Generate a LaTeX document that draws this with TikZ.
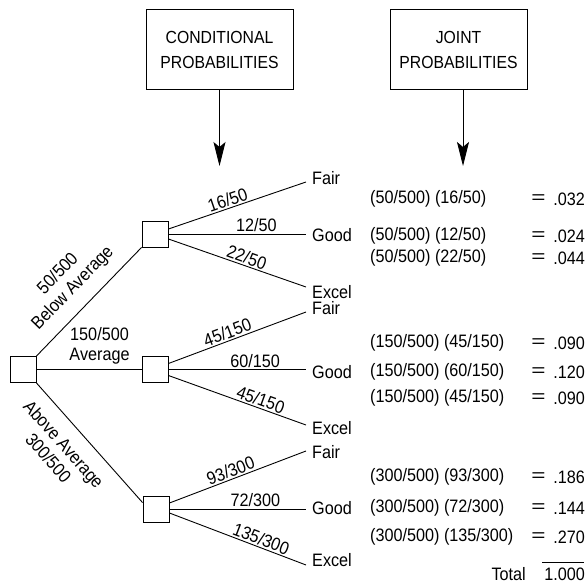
\documentclass[tikz,border=0pt]{standalone}
\usepackage{graphicx}
\usepackage{fontspec}
\setmainfont{Liberation Sans}[FakeStretch=0.9]
\usetikzlibrary{arrows.meta,calc}
\begin{document}
\begin{tikzpicture}[x=1pt,y=-1pt,
  every node/.style={font=\fontsize{18pt}{20.5pt}\selectfont, inner sep=0pt},
  ln/.style={line width=0.9pt},
  sq/.style={draw, line width=0.9pt, minimum size=26pt, inner sep=0pt},
  hdr/.style={draw, line width=1pt, align=center, font=\fontsize{17.5pt}{25pt}\selectfont},
  cl/.style={sloped, above=1.5pt},
  lbl/.style={anchor=west},
  prod/.style={anchor=west},
  res/.style={anchor=east},
  eqs/.style={anchor=center},
  arr/.style={line width=0.9pt, -{Stealth[length=24pt,width=12pt,inset=5pt]}}]
\useasboundingbox (0,0) rectangle (587,586);

% headers
\node[hdr, minimum width=147pt, minimum height=80pt] (cond) at (219.5,50) {CONDITIONAL\\PROBABILITIES};
\node[hdr, minimum width=137pt, minimum height=80pt] (joint) at (458.5,50) {JOINT\\PROBABILITIES};
\coordinate (condtip) at (219.5,166);
\coordinate (jointtip) at (463,166);
\draw[arr] (cond.south) -- (condtip);
\draw[arr] (joint.south -| jointtip) -- (jointtip);

% squares
\node[sq] (root) at (23,369.5) {};
\node[sq] (sa) at (155,234) {};
\node[sq] (sb) at (155,369.5) {};
\node[sq] (sc) at (156,509) {};

% root branches
\draw[ln] (root.north east) -- node[sloped, above=10pt, inner sep=2pt, align=center, pos=0.49] (lA) {50/500\\Below Average} (sa.south west);
\draw[ln] (root.east) -- node[above=2.4pt, inner sep=2pt, align=center, pos=0.6] (lB) {150/500\\Average} (sb.west);
\draw[ln] (root.south east) -- node[sloped, below=11pt, inner sep=2pt, align=center, pos=0.4] (lC) {Above Average\\300/500} ([yshift=-7pt]sc.north west);

% branch ends
\coordinate (aF) at (306,182);
\coordinate (aG) at (306,234);
\coordinate (aE) at (306,287);
\coordinate (bF) at (306,312);
\coordinate (bG) at (306,369.5);
\coordinate (bE) at (306,425);
\coordinate (cF) at (306,451);
\coordinate (cG) at (306,509);
\coordinate (cE) at (306,565);

\draw[ln] ([yshift=5pt]sa.east) -- node[cl,pos=0.45] {16/50} (aF);
\draw[ln] (sa.east) -- node[cl,pos=0.64] {12/50} (aG);
\draw[ln] ([yshift=-5pt]sa.east) -- node[cl,pos=0.55] {22/50} (aE);
\draw[ln] ([yshift=6pt]sb.east) -- node[cl,pos=0.45] {45/150} (bF);
\draw[ln] (sb.east) -- node[cl,pos=0.63] {60/150} (bG);
\draw[ln] ([yshift=-6pt]sb.east) -- node[cl,pos=0.65] {45/150} (bE);
\draw[ln] ([yshift=6pt]sc.east) -- node[cl,pos=0.47] {93/300} (cF);
\draw[ln] (sc.east) -- node[cl,pos=0.63] {72/300} (cG);
\draw[ln] ([yshift=-4pt]sc.east) -- node[cl,pos=0.65] {135/300} (cE);

% outcome labels
\node[lbl] (aFl) at (312,178) {Fair};
\node[lbl] (aGl) at (312,235) {Good};
\node[lbl] (aEl) at (312,292) {Excel};
\node[lbl] (bFl) at (312,308) {Fair};
\node[lbl] (bGl) at (312,372) {Good};
\node[lbl] (bEl) at (312,428) {Excel};
\node[lbl] (cFl) at (312,452) {Fair};
\node[lbl] (cGl) at (312,508) {Good};
\node[lbl] (cEl) at (312,560) {Excel};

% joint products
\node[prod] (p1) at (370,199) {(50/500) (16/50)};
\node[prod] (p2) at (370,236) {(50/500) (12/50)};
\node[prod] (p3) at (370,258) {(50/500) (22/50)};
\node[prod] (p4) at (370,343) {(150/500) (45/150)};
\node[prod] (p5) at (370,372) {(150/500) (60/150)};
\node[prod] (p6) at (370,398) {(150/500) (45/150)};
\node[prod] (p7) at (370,477) {(300/500) (93/300)};
\node[prod] (p8) at (370,508) {(300/500) (72/300)};
\node[prod] (p9) at (370,537) {(300/500) (135/300)};

\foreach \y/\n in {199/1,236/2,258/3,343/4,372/5,398/6,477/7,508/8,537/9}
  \node[eqs] (e\n) at (538.5,\y) {\scalebox{1.5}[1]{=}};
\node[res] (r1) at (585,199) {.032};
\node[res] (r2) at (585,236) {.024};
\node[res] (r3) at (585,258) {.044};
\node[res] (r4) at (585,343) {.090};
\node[res] (r5) at (585,372) {.120};
\node[res] (r6) at (585,398) {.090};
\node[res] (r7) at (585,477) {.186};
\node[res] (r8) at (585,508) {.144};
\node[res] (r9) at (585,537) {.270};

\coordinate (t1) at (542,562);
\coordinate (t2) at (584,562);
\draw[line width=0.8pt] (t1) -- (t2);
\node[res] (tot) at (526,574) {Total};
\node[res] (totv) at (585,574) {1.000};
\end{tikzpicture}
\end{document}
